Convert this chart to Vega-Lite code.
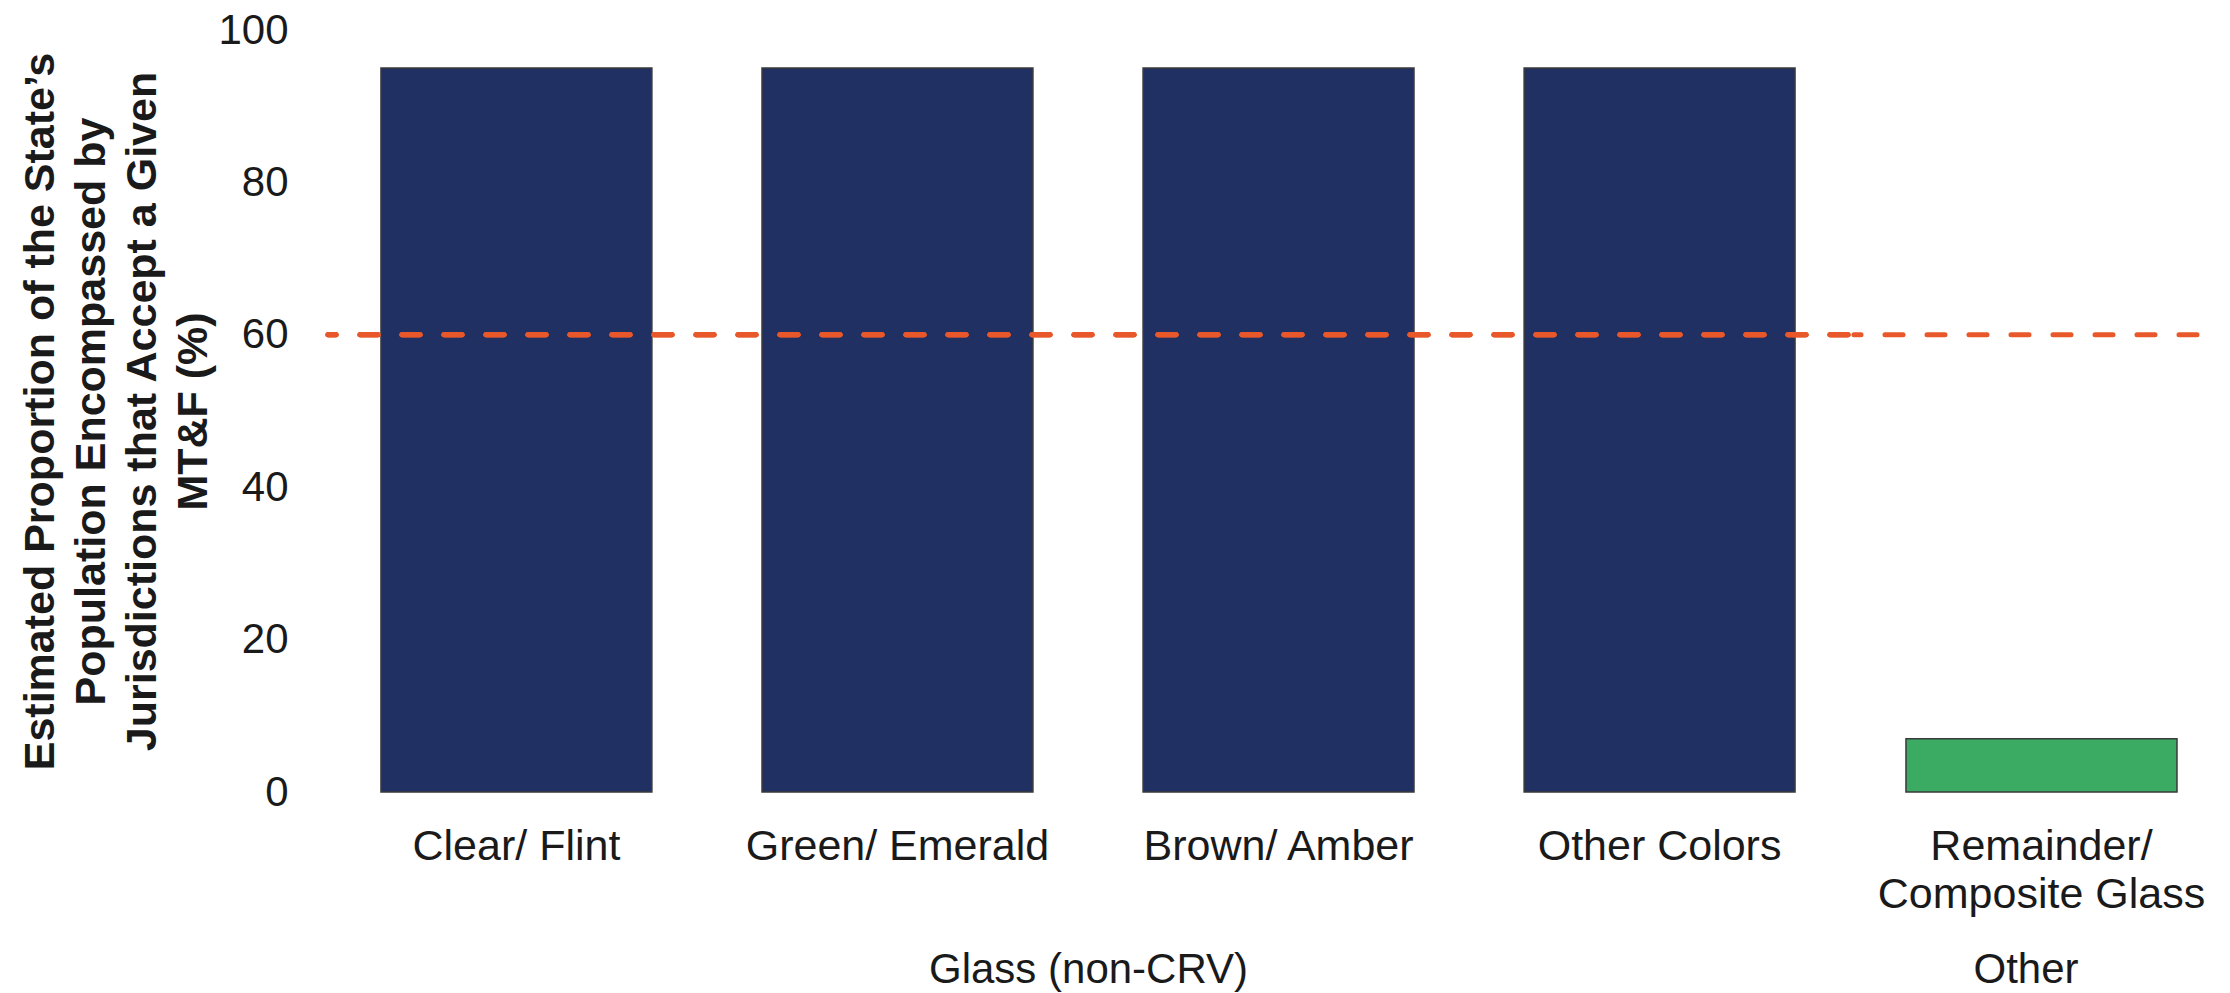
{
  "$schema": "https://vega.github.io/schema/vega-lite/v6.json",
  "padding": {"left": 19, "top": 9, "right": 5, "bottom": 5},
  "background": "white",
  "config": {
    "font": "Liberation Sans",
    "view": {"stroke": null},
    "axis": {"grid": false, "ticks": false, "domain": false, "labelColor": "#1a1a1a", "titleColor": "#1a1a1a", "labelLimit": 0, "labelOverlap": false}
  },
  "data": {
    "values": [
      {"material": "Clear/ Flint", "group": "Glass (non-CRV)", "pct": 95},
      {"material": "Green/ Emerald", "group": "Glass (non-CRV)", "pct": 95},
      {"material": "Brown/ Amber", "group": "Glass (non-CRV)", "pct": 95},
      {"material": "Other Colors", "group": "Glass (non-CRV)", "pct": 95},
      {"material": "Remainder/ Composite Glass", "group": "Other", "pct": 7}
    ]
  },
  "spacing": 0,
  "resolve": {"scale": {"x": "independent", "y": "independent", "color": "shared"}},
  "hconcat": [
    {
      "width": 1520,
      "height": 762,
      "transform": [{"filter": "datum.group == 'Glass (non-CRV)'"}],
      "layer": [
        {
          "mark": {"type": "bar", "stroke": "#3a3a3a", "strokeWidth": 1.5},
          "encoding": {
            "x": {"field": "material", "type": "nominal", "sort": null,
              "scale": {"paddingInner": 0.289, "paddingOuter": 0.139},
              "axis": {"labelAngle": 0, "labelFontSize": 43, "labelPadding": 33, "labelLineHeight": 48,
                "title": "Glass (non-CRV)", "titleFontSize": 42, "titleFontWeight": "normal", "titlePadding": 81}},
            "y": {"field": "pct", "type": "quantitative", "scale": {"domain": [0, 100]},
              "axis": {"values": [0, 20, 40, 60, 80, 100], "labelFontSize": 42, "labelPadding": 40,
                "title": ["Estimated Proportion of the State’s", "Population Encompassed by", "Jurisdictions that Accept a Given", "MT&F (%)"],
                "titleFontSize": 43, "titleFontWeight": "bold", "titleLineHeight": 51, "titlePadding": 2}},
            "color": {"field": "group", "type": "nominal",
              "scale": {"domain": ["Glass (non-CRV)", "Other"], "range": ["#213062", "#3BAA62"]}, "legend": null}
          }
        },
        {
          "mark": {"type": "rule", "color": "#E8582A", "strokeWidth": 5, "strokeDash": [18, 24], "strokeCap": "round"},
          "encoding": {"y": {"datum": 60, "type": "quantitative"}}
        }
      ]
    },
    {
      "width": 343,
      "height": 762,
      "transform": [{"filter": "datum.group == 'Other'"}],
      "layer": [
        {
          "mark": {"type": "bar", "stroke": "#3a3a3a", "strokeWidth": 1.5},
          "encoding": {
            "x": {"field": "material", "type": "nominal", "sort": null,
              "scale": {"paddingInner": 0, "paddingOuter": 0.1328, "align": 0.722},
              "axis": {"labelAngle": 0, "labelFontSize": 43, "labelPadding": 33, "labelLineHeight": 48,
                "labelExpr": "datum.value == 'Remainder/ Composite Glass' ? ['Remainder/', 'Composite Glass'] : datum.label",
                "title": "Other", "titleFontSize": 42, "titleFontWeight": "normal", "titlePadding": 33}},
            "y": {"field": "pct", "type": "quantitative", "scale": {"domain": [0, 100]}, "axis": null},
            "color": {"field": "group", "type": "nominal",
              "scale": {"domain": ["Glass (non-CRV)", "Other"], "range": ["#213062", "#3BAA62"]}, "legend": null}
          }
        },
        {
          "mark": {"type": "rule", "color": "#E8582A", "strokeWidth": 5, "strokeDash": [18, 24], "strokeCap": "round"},
          "encoding": {"y": {"datum": 60, "type": "quantitative"}}
        }
      ]
    }
  ]
}
